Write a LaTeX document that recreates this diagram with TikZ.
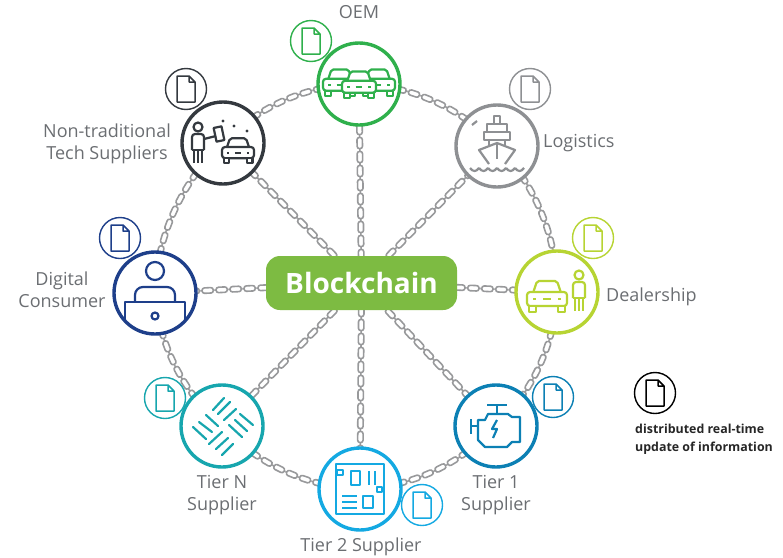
\documentclass[tikz,border=0pt]{standalone}
\usepackage{fontspec}
\setmainfont{Open Sans}
\usetikzlibrary{backgrounds,decorations.markings}

\definecolor{oemgreen}{HTML}{2FB04C}
\definecolor{shipgray}{HTML}{8E9093}
\definecolor{lime}{HTML}{B7D433}
\definecolor{engineblue}{HTML}{0C80B4}
\definecolor{chipblue}{HTML}{14A9E2}
\definecolor{hatchteal}{HTML}{17A6AE}
\definecolor{navy}{HTML}{1E3F8A}
\definecolor{slate}{HTML}{34393F}
\definecolor{hubgreen}{HTML}{7DBB42}
\definecolor{labelgray}{HTML}{6B6E72}
\definecolor{linkgray}{HTML}{98999B}

\tikzset{
    actor/.style={circle,draw=#1,line width=3.4pt,fill=white,minimum size=82pt,inner sep=0pt},
    docbadge/.style={circle,draw=#1,line width=1.4pt,fill=white,minimum size=41pt,inner sep=0pt},
    hublabel/.style={rectangle,rounded corners=14pt,fill=hubgreen,text=white,minimum width=191pt,minimum height=54pt,
        font=\fontsize{28}{32}\selectfont\bfseries},
    caption/.style={text=labelgray,align=center,inner sep=0pt,font=\fontsize{18}{22}\selectfont},
    legendtext/.style={text=black!85,align=left,inner sep=0pt,font=\fontsize{12.4}{18}\selectfont\bfseries},
    chainlink/.style={decorate,decoration={markings,
        mark=between positions 0 and 1 step 14pt with {
            \draw[linkgray,line width=1.6pt,rounded corners=2.4pt] (-5.6,-2.7) rectangle (5.6,2.7)
                (-7,0) -- (-5.6,0) (5.6,0) -- (7,0);
        }}},
    ring/.style={bend left=22.5,looseness=.885},
    icon/.style={line width=2.2pt,line join=round},
    docicon/.pic={
        \draw[line width=1.5pt,line join=round] (-9,-13) -- (3,-13) -- (9,-7) -- (9,13) -- (-9,13) -- cycle
            (3,-13) -- (3,-7) -- (9,-7);
    },
    carfront/.pic={
        \draw[icon,fill=white,rounded corners=2pt] (-14,-4) -- (-10,-16) -- (10,-16) -- (14,-4);
        \draw[icon,fill=white,rounded corners=3pt] (-20,-5) rectangle (20,9);
        \draw[icon,fill=white] (-18,9) rectangle (-11,15) (11,9) rectangle (18,15);
        \draw[icon] (-14,2) -- (-11,2) (11,2) -- (14,2) (-4,2) -- (4,2);
    },
    person/.pic={
        \draw[icon] (0,-16) circle (4.5);
        \draw[icon,rounded corners=3pt] (-6,7) -- (-6,-9) -- (6,-9) -- (6,7);
        \draw[icon] (-6,7) -- (6,7) (-4,7) -- (-4,20) (0,7) -- (0,20) (4,7) -- (4,20);
    }
}

\begin{document}
\begin{tikzpicture}[x=1pt,y=-1pt]
    \useasboundingbox (0,0) rectangle (783,557);

    \node[hublabel] (hub) at (361.5,283) {Blockchain};
    \node[actor=oemgreen] (oem) at (359,84) {};
    \node[actor=shipgray] (logistics) at (497,146) {};
    \node[actor=lime] (dealership) at (557,292) {};
    \node[actor=engineblue] (tierone) at (496,426) {};
    \node[actor=chipblue] (tiertwo) at (360,489) {};
    \node[actor=hatchteal] (tiern) at (222,426) {};
    \node[actor=navy] (digital) at (155,293) {};
    \node[actor=slate] (nontrad) at (223,143) {};

    \begin{scope}[on background layer]
        \foreach \member in {oem,logistics,dealership,tierone,tiertwo,tiern,digital,nontrad}
            \draw[chainlink] (hub.center) -- (\member.center);
        \draw[chainlink] (oem.center) to[ring] (logistics.center);
        \draw[chainlink] (logistics.center) to[ring] (dealership.center);
        \draw[chainlink] (dealership.center) to[ring] (tierone.center);
        \draw[chainlink] (tierone.center) to[ring] (tiertwo.center);
        \draw[chainlink] (tiertwo.center) to[ring] (tiern.center);
        \draw[chainlink] (tiern.center) to[ring] (digital.center);
        \draw[chainlink] (digital.center) to[ring] (nontrad.center);
        \draw[chainlink] (nontrad.center) to[ring] (oem.center);
    \end{scope}

    \node[docbadge=oemgreen] (oemdoc) at (311,41) {};
    \node[docbadge=shipgray] (logisticsdoc) at (530,89) {};
    \node[docbadge=lime] (dealershipdoc) at (593,238) {};
    \node[docbadge=engineblue] (tieronedoc) at (553,397) {};
    \node[docbadge=chipblue] (tiertwodoc) at (422,505) {};
    \node[docbadge=hatchteal] (tierndoc) at (165,398) {};
    \node[docbadge=navy] (digitaldoc) at (120,238) {};
    \node[docbadge=slate] (nontraddoc) at (186,89) {};
    \node[docbadge=black] (legenddoc) at (655,393) {};

    \pic[color=oemgreen] at (oemdoc) {docicon};
    \pic[color=shipgray] at (logisticsdoc) {docicon};
    \pic[color=lime] at (dealershipdoc) {docicon};
    \pic[color=engineblue] at (tieronedoc) {docicon};
    \pic[color=chipblue] at (tiertwodoc) {docicon};
    \pic[color=hatchteal] at (tierndoc) {docicon};
    \pic[color=navy] at (digitaldoc) {docicon};
    \pic[color=slate] at (nontraddoc) {docicon};
    \pic[color=black] at (legenddoc) {docicon};

    \node[caption] (oemlabel) at (359,12) {OEM};
    \node[caption,anchor=west] (logisticslabel) at (543,143.5) {Logistics};
    \node[caption,anchor=west] (dealershiplabel) at (606,296.5) {Dealership};
    \node[caption] (tieronelabel) at (496,495) {Tier 1\\Supplier};
    \node[caption] (tiertwolabel) at (361,546.5) {Tier 2 Supplier};
    \node[caption] (tiernlabel) at (222,495) {Tier N\\Supplier};
    \node[caption] (digitallabel) at (62,290) {Digital\\Consumer};
    \node[caption] (nontradlabel) at (107,143.5) {Non-traditional\\Tech Suppliers};
    \node[legendtext,anchor=north west] (legendlabel) at (635,424) {distributed real-time\\update of information};

    \begin{scope}[shift={(oem)},color=oemgreen]
        \pic[scale=.85] at (-19,-1) {carfront};
        \pic[scale=.85] at (19,-1) {carfront};
        \pic[scale=.85] at (0,1) {carfront};
    \end{scope}

    \begin{scope}[shift={(logistics)},color=shipgray]
        \draw[icon] (-25,-21) -- (-20,-25);
        \draw[icon] (-3,-30) rectangle (3,-22);
        \draw[icon] (-10,-22) rectangle (10,-14);
        \draw[icon] (-13,-14) rectangle (13,-6);
        \draw[icon] (-8,-6) -- (-8,-1) (8,-6) -- (8,-1);
        \draw[icon] (-8,18) -- (-18,4) -- (0,-3) -- (18,4) -- (8,18);
        \draw[icon] (0,-3) -- (0,13);
        \foreach \x in {-27,-18,-9,0,9,18}
            \draw[icon] (\x,22) .. controls (\x+3,26) and (\x+6,26) .. (\x+9,22);
    \end{scope}

    \begin{scope}[shift={(dealership)},color=lime]
        \pic at (-10,5) {carfront};
        \pic at (22,-1) {person};
    \end{scope}

    \begin{scope}[shift={(tierone)},color=engineblue]
        \draw[icon] (-9,-21) -- (11,-21) (1,-21) -- (1,-12);
        \draw[icon] (-25,-7) -- (-25,8) (-25,0) -- (-18,0);
        \draw[icon] (-18,-6) -- (-11,-6) -- (-8,-12) -- (12,-12) -- (16,-9) -- (24,-9) -- (24,16)
            -- (16,16) -- (11,21) -- (-11,21) -- (-18,14) -- cycle;
        \draw[icon] (1,-6) -- (-4,3) -- (1,3) -- (-3,12);
    \end{scope}

    \begin{scope}[shift={(tiertwo)},color=chipblue]
        \draw[icon] (-24,-25) rectangle (24,25);
        \draw[icon] (-23,-19) rectangle (-17,-14);
        \draw[icon] (-9,-18) rectangle (0,-4);
        \draw[icon] (9,-18) -- (9,-4) (15,-18) -- (15,-4);
        \draw[icon] (17,-2) rectangle (22,3);
        \draw[icon] (-18,7) -- (-3,7) (-18,13) -- (-3,13) (-18,19) -- (-3,19);
        \draw[icon] (3,7) rectangle (13,19);
    \end{scope}

    \begin{scope}[shift={(tiern)},color=hatchteal,line cap=round]
        \draw[icon] (-9,-16) -- (2,-28) (-4,-12) -- (8,-24) (2,-6) -- (14,-17);
        \draw[icon] (18,-12) -- (31,-1) (13,-6) -- (25,5) (7,-1) -- (20,11);
        \draw[icon] (-16,-11) -- (-4,0) (-23,-4) -- (-10,6) (-29,1) -- (-16,13);
        \draw[icon] (-13,18) -- (0,6) (-6,23) -- (6,12) (0,29) -- (11,18);
    \end{scope}

    \begin{scope}[shift={(digital)},color=navy]
        \draw[icon] (0,-22) circle (9);
        \draw[icon,rounded corners=8pt] (-20,9) -- (-20,-6) -- (20,-6) -- (20,9);
        \draw[icon] (-30,27) -- (-30,9) -- (30,9) -- (30,27);
        \draw[icon] (0,23) circle (3.5);
    \end{scope}

    \begin{scope}[shift={(nontrad)},color=slate]
        \pic at (-25,0) {person};
        \draw[icon] (-19,-4) -- (-7,-7);
        \draw[icon,rotate around={12:(-4,-9)}] (-8,-16) rectangle (0,-2);
        \pic[scale=.8] at (15,8) {carfront};
        \fill (0,-22) circle (1.6) (11,-17) circle (1.6) (24,-12) circle (1.6);
    \end{scope}
\end{tikzpicture}
\end{document}
